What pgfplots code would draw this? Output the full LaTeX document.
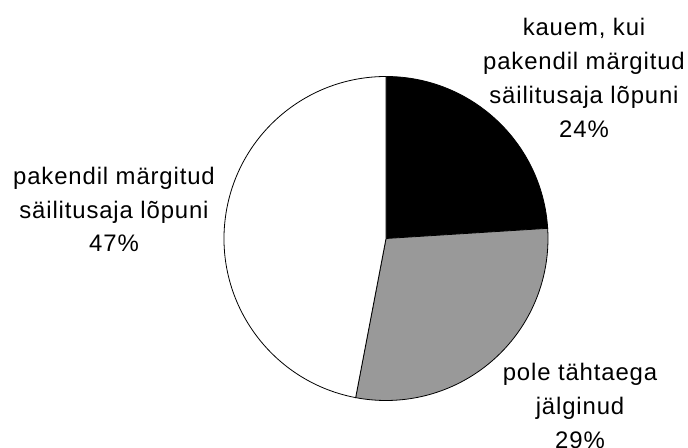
\documentclass[border=0pt]{standalone}
\usepackage{pgfplots}
\pgfplotsset{compat=1.18}
\usepackage{fontspec}
\setmainfont{Liberation Sans}
\newfontfamily\lab[LetterSpace=3.6]{Liberation Sans}
\definecolor{piegray}{RGB}{153,153,153}
\tikzset{lbl/.style={font=\lab\fontsize{24}{34}\selectfont, inner sep=0pt, anchor=base}}
\begin{document}
\begin{tikzpicture}
\useasboundingbox (0,0) rectangle (688bp,448bp);
\clip (0,0) rectangle (688bp,448bp);
\begin{axis}[
  at={(0,0)}, anchor=south west,
  width=688bp, height=448bp, scale only axis,
  xmin=0, xmax=688, ymin=0, ymax=448,
  hide axis, clip=false,
]
% shares (percent), clockwise from the top
\def\cx{386}\def\cy{209.5}
\fill[black, draw=black, line width=0.8bp] (axis cs:\cx,\cy) -- ++(90:162bp) arc[start angle=90, delta angle=-24*3.6, radius=162bp] -- cycle;
\fill[piegray, draw=black, line width=0.8bp] (axis cs:\cx,\cy) -- ++(90-24*3.6:162bp) arc[start angle=90-24*3.6, delta angle=-29*3.6, radius=162bp] -- cycle;
\fill[white, draw=black, line width=0.8bp] (axis cs:\cx,\cy) -- ++(90-53*3.6:162bp) arc[start angle=90-53*3.6, delta angle=-47*3.6, radius=162bp] -- cycle;
% labels
\node[lbl] at (axis cs:584,412) {kauem, kui};
\node[lbl] at (axis cs:584,378.1) {pakendil märgitud};
\node[lbl] at (axis cs:584,344.2) {säilitusaja lõpuni};
\node[lbl] at (axis cs:584,310.3) {24\%};
\node[lbl] at (axis cs:114,263) {pakendil märgitud};
\node[lbl] at (axis cs:114,229.5) {säilitusaja lõpuni};
\node[lbl] at (axis cs:114,196) {47\%};
\node[lbl] at (axis cs:580,67.3) {pole tähtaega};
\node[lbl] at (axis cs:580,33.4) {jälginud};
\node[lbl] at (axis cs:580,-0.6) {29\%};
\end{axis}
\end{tikzpicture}
\end{document}
